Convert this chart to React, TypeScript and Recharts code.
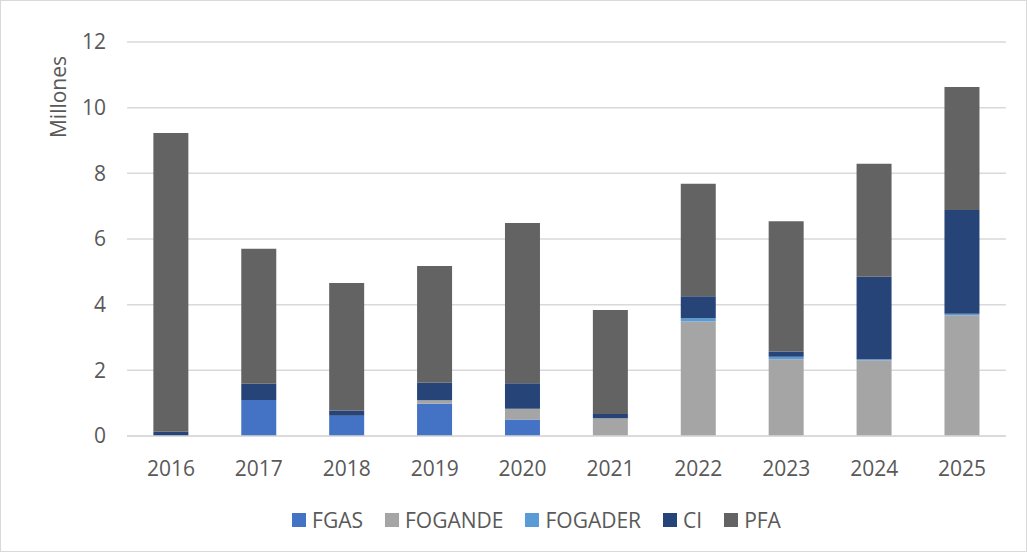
import React from 'react';
import { BarChart, Bar, XAxis, YAxis, CartesianGrid } from 'recharts';

const years = ['2016', '2017', '2018', '2019', '2020', '2021', '2022', '2023', '2024', '2025'];
const fgas = [0, 1.1, 0.62, 0.98, 0.5, 0, 0, 0, 0, 0];
const fogande = [0, 0, 0, 0.11, 0.33, 0.54, 3.49, 2.34, 2.31, 3.68];
const fogader = [0, 0, 0, 0, 0, 0, 0.1, 0.07, 0.03, 0.04];
const ci = [0.13, 0.49, 0.16, 0.53, 0.78, 0.13, 0.67, 0.16, 2.51, 3.16];
const pfa = [9.1, 4.11, 3.88, 3.56, 4.88, 3.17, 3.42, 3.97, 3.44, 3.75];
const yTicks = [0, 2, 4, 6, 8, 10, 12];

const series = [
  { key: 'FGAS', values: fgas, color: '#4472C4' },
  { key: 'FOGANDE', values: fogande, color: '#A5A5A5' },
  { key: 'FOGADER', values: fogader, color: '#5B9BD5' },
  { key: 'CI', values: ci, color: '#264478' },
  { key: 'PFA', values: pfa, color: '#636363' },
];

const data = years.map((y, i) => {
  const row: Record<string, any> = { year: y };
  series.forEach((s) => (row[s.key] = s.values[i]));
  return row;
});

const FONT = "'Open Sans', 'Liberation Sans', sans-serif";
const TXT = '#595959';
const FS = 21;

const LegendRow = () => (
  <div
    style={{
      position: 'absolute',
      top: 505,
      left: 0,
      width: 1027,
      paddingLeft: 44,
      boxSizing: 'border-box',
      display: 'flex',
      justifyContent: 'center',
      fontFamily: FONT,
      fontSize: FS,
      color: TXT,
    }}
  >
    {series.map((s, i) => (
      <div
        key={s.key}
        style={{ display: 'flex', alignItems: 'center', marginRight: i === series.length - 1 ? 0 : 22 }}
      >
        <span style={{ width: 14, height: 14, background: s.color, display: 'inline-block', marginRight: 6 }} />
        <span>{s.key}</span>
      </div>
    ))}
  </div>
);

export default function App() {
  return (
    <div
      style={{
        position: 'absolute',
        left: 0,
        top: 0,
        width: 1027,
        height: 552,
        boxSizing: 'border-box',
        border: '1px solid #d9d9d9',
        background: '#fff',
      }}
    >
      <BarChart
        width={1027}
        height={552}
        data={data}
        margin={{ top: 42, right: 21, bottom: 86, left: 67 }}
        barCategoryGap="30%"
        style={{ position: 'absolute', left: -1, top: -1 }}
      >
        <CartesianGrid vertical={false} stroke="#d9d9d9" strokeWidth={1.5} />
        <XAxis
          dataKey="year"
          height={30}
          axisLine={{ stroke: '#d9d9d9', strokeWidth: 1.5 }}
          tickLine={false}
          tickSize={0}
          tickMargin={25}
          tick={{ fill: TXT, fontSize: FS, fontFamily: FONT }}
        />
        <YAxis
          width={60}
          domain={[0, 12]}
          ticks={yTicks}
          axisLine={false}
          tickLine={false}
          tickSize={0}
          tickMargin={21}
          tick={{ fill: TXT, fontSize: FS, fontFamily: FONT }}
          label={{
            value: 'Millones',
            angle: -90,
            position: 'insideTopLeft',
            offset: 0,
            dx: -16,
            dy: 55,
            style: { fill: TXT, fontSize: FS, fontFamily: FONT, textAnchor: 'middle' },
          }}
        />
        {series.map((s) => (
          <Bar key={s.key} dataKey={s.key} stackId="a" fill={s.color} isAnimationActive={false} />
        ))}
      </BarChart>
      <LegendRow />
    </div>
  );
}
